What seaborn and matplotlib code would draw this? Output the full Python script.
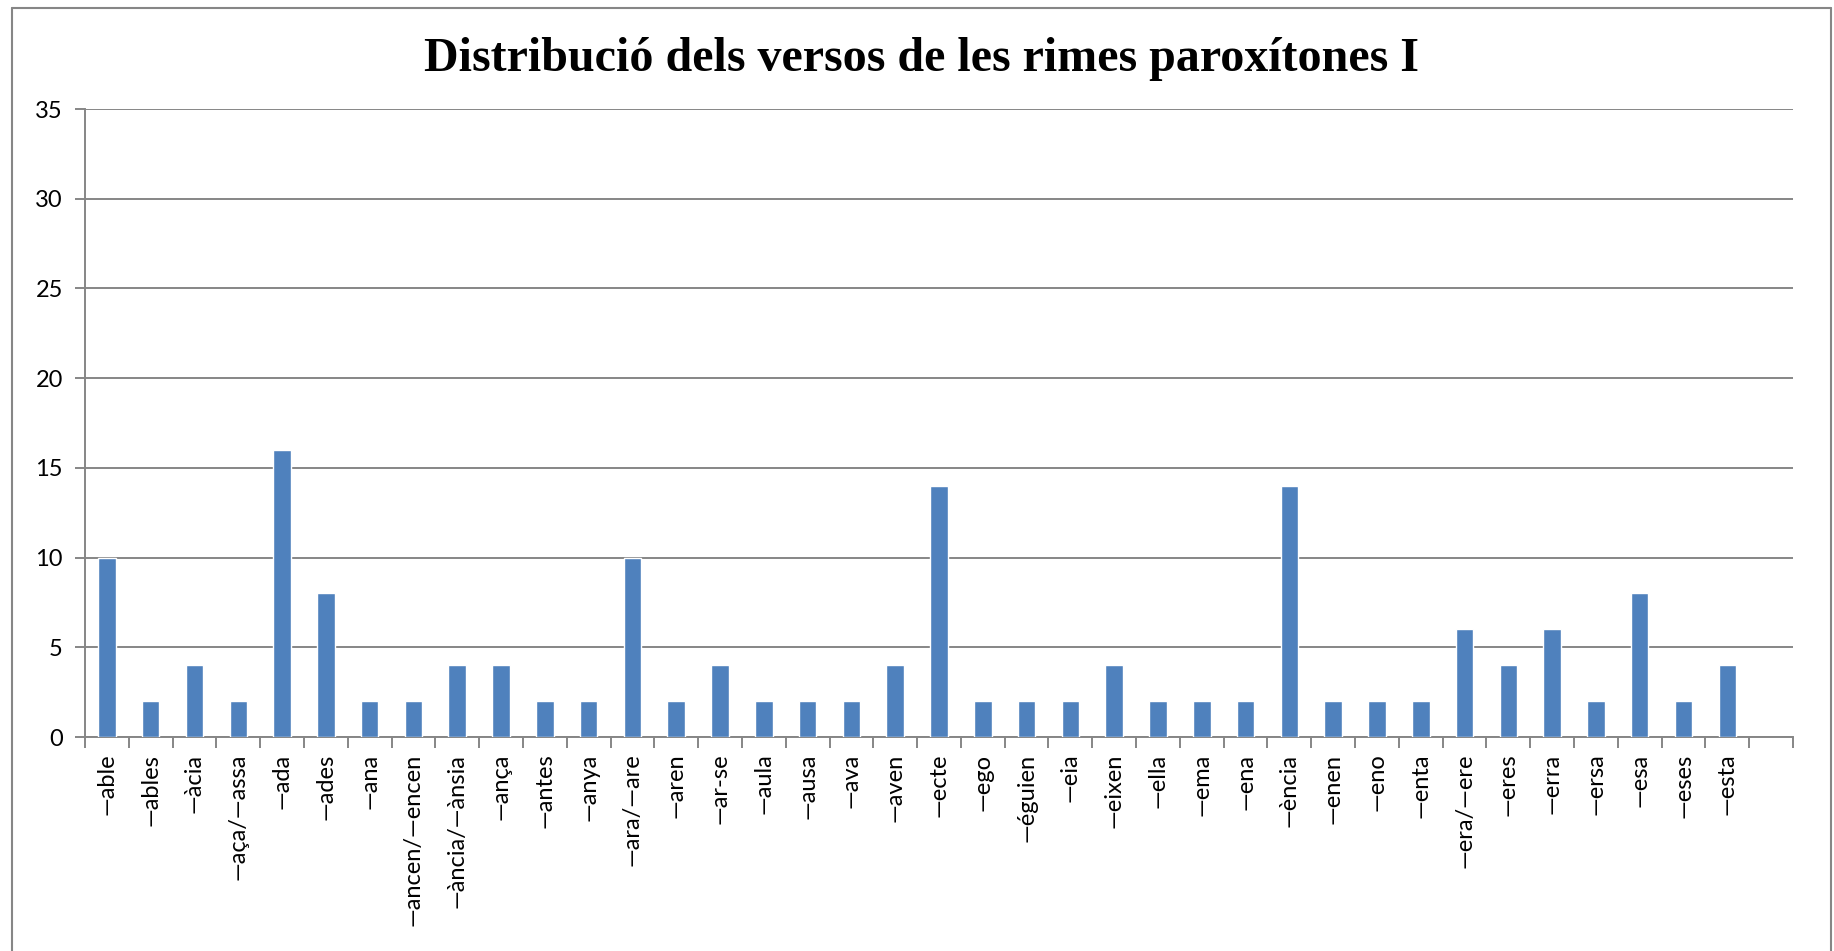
import matplotlib
matplotlib.use("Agg")
import matplotlib.pyplot as plt
import seaborn as sns
import numpy as np
from matplotlib.lines import Line2D

categories = ["—able", "—ables", "—àcia", "—aça/—assa", "—ada", "—ades", "—ana",
              "—ancen/—encen", "—ància/—ànsia", "—ança", "—antes", "—anya",
              "—ara/—are", "—aren", "—ar-se", "—aula", "—ausa", "—ava", "—aven",
              "—ecte", "—ego", "—éguien", "—eia", "—eixen", "—ella", "—ema",
              "—ena", "—ència", "—enen", "—eno", "—enta", "—era/—ere", "—eres",
              "—erra", "—ersa", "—esa", "—eses", "—esta"]
values = [10, 2, 4, 2, 16, 8, 2, 2, 4, 4, 2, 2, 10, 2, 4, 2, 2, 2, 4, 14, 2, 2, 2,
          4, 2, 2, 2, 14, 2, 2, 2, 6, 4, 6, 2, 8, 2, 4]
y_ticks = [0, 5, 10, 15, 20, 25, 30, 35]
title = "Distribució dels versos de les rimes paroxítones I"

sns.set_theme(style="white")
plt.rcParams['font.family'] = ['Lato', 'DejaVu Sans']
plt.rcParams['text.color'] = 'black'
plt.rcParams['xtick.color'] = 'black'
plt.rcParams['ytick.color'] = 'black'

fig = plt.figure(figsize=(18.34, 9.51), dpi=100)
ax = fig.add_axes([85/1834, 1 - 737/951, (1793-85)/1834, (737-109)/951])

sns.barplot(x=categories, y=values, color="#4F81BD", width=0.4, saturation=1,
            ax=ax, zorder=3)
n_slots = len(categories) + 1
ax.set_xlim(-0.5, n_slots - 0.5)
ax.set_ylim(0, 35)
ax.set_yticks(y_ticks)
ax.yaxis.grid(True, color="#868686", linewidth=1.4, zorder=0)
ax.set_axisbelow(True)

for s in ["top", "right"]:
    ax.spines[s].set_visible(False)
for s in ["left", "bottom"]:
    ax.spines[s].set_color("#868686")
    ax.spines[s].set_linewidth(1.4)

ax.tick_params(axis="y", which="major", left=True, length=7, width=1.4,
               color="#868686", labelcolor="black", pad=9, labelsize=17)
ax.set_xticks(np.arange(len(categories)))
ax.set_xticklabels(categories, rotation=90, fontsize=17, color="black")
ax.set_xticks(np.arange(n_slots + 1) - 0.5, minor=True)
ax.tick_params(axis="x", which="major", bottom=False, length=0, pad=12)
ax.tick_params(axis="x", which="minor", bottom=True, length=8, width=1.4,
               color="#868686")
ax.set_xlabel("")
ax.set_ylabel("")

fig.suptitle(title, fontfamily="Liberation Serif", fontweight="bold",
             fontsize=34.6, y=1 - 59/951, va="center", x=922/1834,
             color="black")

# outer chart frame
fc = "#868686"
fig.add_artist(Line2D([12/1834, 12/1834], [0, 1 - 8/951], color=fc, lw=1.5,
                      transform=fig.transFigure))
fig.add_artist(Line2D([12/1834, 1831/1834], [1 - 8/951, 1 - 8/951], color=fc,
                      lw=1.5, transform=fig.transFigure))
fig.add_artist(Line2D([1831/1834, 1831/1834], [0, 1 - 8/951], color=fc, lw=1.5,
                      transform=fig.transFigure))

fig.savefig("out.png", dpi=100)
